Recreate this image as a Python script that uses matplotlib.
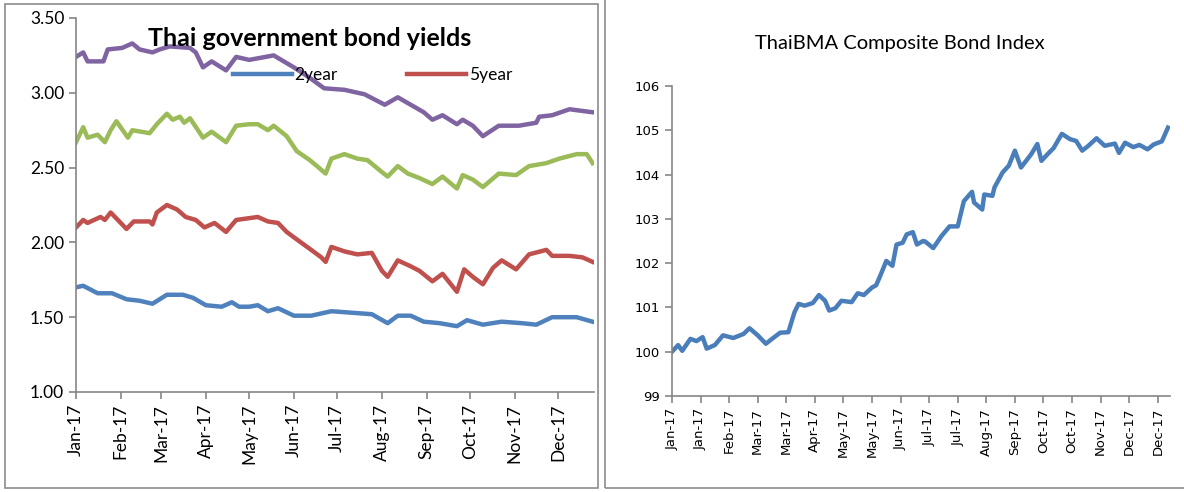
import matplotlib
matplotlib.use("Agg")
import matplotlib.pyplot as plt
import matplotlib.patches as patches
import numpy as np
import pandas as pd

# --- data ---
y15_dates = ["2017-01-01", "2017-01-06", "2017-01-09", "2017-01-20", "2017-01-23", "2017-02-02",
             "2017-02-09", "2017-02-14", "2017-02-23", "2017-02-28", "2017-03-07", "2017-03-21",
             "2017-03-25", "2017-03-30", "2017-04-05", "2017-04-15", "2017-04-22", "2017-05-01",
             "2017-05-18", "2017-06-01", "2017-06-12", "2017-06-22", "2017-07-06", "2017-07-20",
             "2017-08-03", "2017-08-12", "2017-08-30", "2017-09-05", "2017-09-12", "2017-09-22",
             "2017-09-26", "2017-10-03", "2017-10-10", "2017-10-21", "2017-11-04", "2017-11-16",
             "2017-11-18", "2017-11-27", "2017-12-09", "2017-12-25"]
y15 = [3.24, 3.27, 3.21, 3.21, 3.29, 3.30, 3.33, 3.29, 3.27, 3.29, 3.31, 3.30,
       3.27, 3.17, 3.21, 3.15, 3.24, 3.22, 3.25, 3.17, 3.10, 3.03, 3.02, 2.99,
       2.92, 2.97, 2.87, 2.82, 2.85, 2.79, 2.82, 2.78, 2.71, 2.78, 2.78, 2.80,
       2.84, 2.85, 2.89, 2.87]

y10_dates = ["2017-01-01", "2017-01-06", "2017-01-09", "2017-01-16", "2017-01-21", "2017-01-25",
             "2017-01-29", "2017-02-06", "2017-02-09", "2017-02-21", "2017-02-26", "2017-03-05",
             "2017-03-09", "2017-03-14", "2017-03-17", "2017-03-21", "2017-03-30", "2017-04-05",
             "2017-04-15", "2017-04-22", "2017-05-01", "2017-05-07", "2017-05-14", "2017-05-18",
             "2017-05-27", "2017-06-03", "2017-06-12", "2017-06-17", "2017-06-23", "2017-06-27",
             "2017-07-06", "2017-07-15", "2017-07-22", "2017-08-01", "2017-08-05", "2017-08-12",
             "2017-08-19", "2017-08-27", "2017-09-05", "2017-09-12", "2017-09-22", "2017-09-26",
             "2017-10-03", "2017-10-10", "2017-10-21", "2017-11-02", "2017-11-11", "2017-11-23",
             "2017-12-02", "2017-12-14", "2017-12-21", "2017-12-25"]
y10 = [2.67, 2.77, 2.70, 2.72, 2.67, 2.75, 2.81, 2.70, 2.75, 2.73, 2.79, 2.86,
       2.82, 2.84, 2.80, 2.83, 2.70, 2.74, 2.67, 2.78, 2.79, 2.79, 2.75, 2.78,
       2.71, 2.61, 2.55, 2.51, 2.46, 2.56, 2.59, 2.56, 2.55, 2.47, 2.44, 2.51,
       2.46, 2.43, 2.39, 2.44, 2.36, 2.45, 2.42, 2.37, 2.46, 2.45, 2.51, 2.53,
       2.56, 2.59, 2.59, 2.53]

y5_dates = ["2017-01-01", "2017-01-06", "2017-01-09", "2017-01-18", "2017-01-21", "2017-01-25",
            "2017-02-05", "2017-02-10", "2017-02-21", "2017-02-23", "2017-02-26", "2017-03-05",
            "2017-03-12", "2017-03-18", "2017-03-25", "2017-03-31", "2017-04-07", "2017-04-15",
            "2017-04-22", "2017-05-07", "2017-05-14", "2017-05-21", "2017-05-27", "2017-06-03",
            "2017-06-13", "2017-06-20", "2017-06-23", "2017-06-27", "2017-07-06", "2017-07-15",
            "2017-07-25", "2017-08-01", "2017-08-05", "2017-08-12", "2017-08-21", "2017-08-27",
            "2017-09-05", "2017-09-12", "2017-09-22", "2017-09-27", "2017-10-03", "2017-10-10",
            "2017-10-17", "2017-10-23", "2017-11-02", "2017-11-11", "2017-11-23", "2017-11-27",
            "2017-12-09", "2017-12-18", "2017-12-25"]
y5 = [2.10, 2.15, 2.13, 2.17, 2.15, 2.20, 2.09, 2.14, 2.14, 2.12, 2.20, 2.25,
      2.22, 2.17, 2.15, 2.10, 2.13, 2.07, 2.15, 2.17, 2.14, 2.13, 2.07, 2.02,
      1.95, 1.90, 1.87, 1.97, 1.94, 1.92, 1.93, 1.81, 1.77, 1.88, 1.84, 1.81,
      1.74, 1.79, 1.67, 1.82, 1.77, 1.72, 1.83, 1.88, 1.82, 1.92, 1.95, 1.91,
      1.91, 1.90, 1.87]

y2_dates = ["2017-01-01", "2017-01-06", "2017-01-16", "2017-01-26", "2017-02-05", "2017-02-14",
            "2017-02-23", "2017-03-05", "2017-03-16", "2017-03-23", "2017-04-01", "2017-04-12",
            "2017-04-19", "2017-04-24", "2017-05-01", "2017-05-07", "2017-05-14", "2017-05-21",
            "2017-06-01", "2017-06-13", "2017-06-27", "2017-07-11", "2017-07-25", "2017-08-05",
            "2017-08-12", "2017-08-21", "2017-08-30", "2017-09-10", "2017-09-22", "2017-09-29",
            "2017-10-10", "2017-10-23", "2017-11-06", "2017-11-16", "2017-11-27", "2017-12-14",
            "2017-12-25"]
y2 = [1.70, 1.71, 1.66, 1.66, 1.62, 1.61, 1.59, 1.65, 1.65, 1.63, 1.58, 1.57,
      1.60, 1.57, 1.57, 1.58, 1.54, 1.56, 1.51, 1.51, 1.54, 1.53, 1.52, 1.46,
      1.51, 1.51, 1.47, 1.46, 1.44, 1.48, 1.45, 1.47, 1.46, 1.45, 1.50, 1.50,
      1.47]

month_labels = ["Jan-17", "Feb-17", "Mar-17", "Apr-17", "May-17", "Jun-17",
                "Jul-17", "Aug-17", "Sep-17", "Oct-17", "Nov-17", "Dec-17"]

# ThaiBMA composite index, by observation number
bma_obs = [0, 3, 5, 9, 12, 15, 17, 21, 25, 30, 35, 38, 42, 46, 49, 53, 57, 60, 62, 65,
           69, 72, 75, 77, 80, 83, 88, 91, 94, 98, 100, 102, 105, 108, 110, 113, 115, 118,
           120, 123, 124, 128, 132, 136, 140, 143, 147, 148, 152, 153, 157, 158, 162, 165,
           168, 171, 176, 179, 181, 184, 187, 191, 195, 198, 201, 204, 208, 212, 217, 219,
           222, 226, 229, 233, 236, 240, 243]
bma = [100.00, 100.15, 100.02, 100.29, 100.24, 100.33, 100.07, 100.15, 100.37, 100.31,
       100.40, 100.53, 100.37, 100.18, 100.29, 100.43, 100.44, 100.89, 101.08, 101.04,
       101.10, 101.28, 101.15, 100.93, 100.98, 101.15, 101.12, 101.32, 101.28, 101.45,
       101.50, 101.71, 102.05, 101.94, 102.42, 102.46, 102.65, 102.70, 102.42, 102.50,
       102.49, 102.34, 102.61, 102.83, 102.83, 103.40, 103.61, 103.37, 103.21, 103.55,
       103.52, 103.71, 104.05, 104.20, 104.54, 104.16, 104.46, 104.69, 104.31, 104.46,
       104.60, 104.92, 104.80, 104.76, 104.54, 104.65, 104.82, 104.65, 104.70, 104.49,
       104.72, 104.62, 104.67, 104.57, 104.68, 104.75, 105.06]
bma_ticklabels = ["Jan-17", "Jan-17", "Feb-17", "Mar-17", "Mar-17", "Apr-17", "May-17",
                  "May-17", "Jun-17", "Jul-17", "Jul-17", "Aug-17", "Sep-17", "Oct-17",
                  "Oct-17", "Nov-17", "Dec-17", "Dec-17"]

C_BLUE, C_RED, C_GREEN, C_PURPLE = "#4F81BD", "#C0504D", "#9BBB59", "#8064A2"
AXIS_GREY = "#868686"

fig = plt.figure(figsize=(11.84, 4.92), dpi=100, facecolor="w")

# panel frames
fig.patches.append(patches.Rectangle((5 / 1184, 4 / 492), 593 / 1184, 484 / 492,
                                     transform=fig.transFigure, fill=False,
                                     edgecolor="#8c8c8c", linewidth=1.2))
fig.patches.append(patches.Rectangle((605 / 1184, 4 / 492), 585 / 1184, 490 / 492,
                                     transform=fig.transFigure, fill=False,
                                     edgecolor="#8c8c8c", linewidth=1.2))

# ---- left: yields ----
ax = fig.add_axes([76 / 1184, 1 - 392 / 492, 518 / 1184, 374 / 492])
l2, = ax.plot(pd.to_datetime(y2_dates), y2, color=C_BLUE, lw=3.2, label="2year")
l5, = ax.plot(pd.to_datetime(y5_dates), y5, color=C_RED, lw=3.2, label="5year")
ax.plot(pd.to_datetime(y10_dates), y10, color=C_GREEN, lw=3.2, label="10year")
ax.plot(pd.to_datetime(y15_dates), y15, color=C_PURPLE, lw=3.2, label="15year")

ax.set_ylim(1.0, 3.5)
ax.set_yticks(np.arange(1.0, 3.51, 0.5))
ax.yaxis.set_major_formatter(matplotlib.ticker.FormatStrFormatter("%.2f"))
ax.set_xlim(pd.Timestamp("2017-01-01"), pd.Timestamp("2017-12-26"))
ax.set_xticks(pd.date_range("2017-01-01", periods=12, freq="MS"))
ax.set_xticklabels(month_labels, rotation=90)
for s in ["top", "right"]:
    ax.spines[s].set_visible(False)
for s in ["left", "bottom"]:
    ax.spines[s].set_color(AXIS_GREY)
    ax.spines[s].set_linewidth(1.2)
ax.tick_params(colors=AXIS_GREY, labelcolor="black", labelsize=12.5, length=5, width=1.2)
for lab in ax.get_yticklabels() + ax.get_xticklabels():
    lab.set_family("Lato")

fig.text(310 / 1184, 1 - 38 / 492, "Thai government bond yields", ha="center", va="center",
         fontsize=18, fontweight="bold", family="Lato")
fig.legend(handles=[l2, l5], loc="center left", bbox_to_anchor=(233 / 1184, 1 - 75 / 492),
           ncol=2, frameon=False, handlelength=3.4, handletextpad=0.15, columnspacing=4.0,
           prop={"family": "Lato", "size": 12.5}, borderaxespad=0, borderpad=0)

# ---- right: ThaiBMA index ----
bx = fig.add_axes([672 / 1184, 1 - 396 / 492, 498 / 1184, 310 / 492])
bx.plot(bma_obs, bma, color="#4A7EBB", lw=3.2)
bx.set_ylim(99, 106)
bx.set_yticks(range(99, 107))
bx.set_xlim(0, 244)
bx.set_xticks(np.arange(len(bma_ticklabels)) * 14)
bx.set_xticklabels(bma_ticklabels, rotation=90)
for s in ["top", "right"]:
    bx.spines[s].set_visible(False)
for s in ["left", "bottom"]:
    bx.spines[s].set_color(AXIS_GREY)
    bx.spines[s].set_linewidth(1.2)
bx.tick_params(colors=AXIS_GREY, labelcolor="black", labelsize=9.5, length=5, width=1.2)
for lab in bx.get_yticklabels() + bx.get_xticklabels():
    lab.set_family("Liberation Sans Narrow")
fig.text(900 / 1184, 1 - 43 / 492, "ThaiBMA Composite Bond Index", ha="center", va="center",
         fontsize=14.5, family="Lato")

fig.savefig("out.png", dpi=100)
